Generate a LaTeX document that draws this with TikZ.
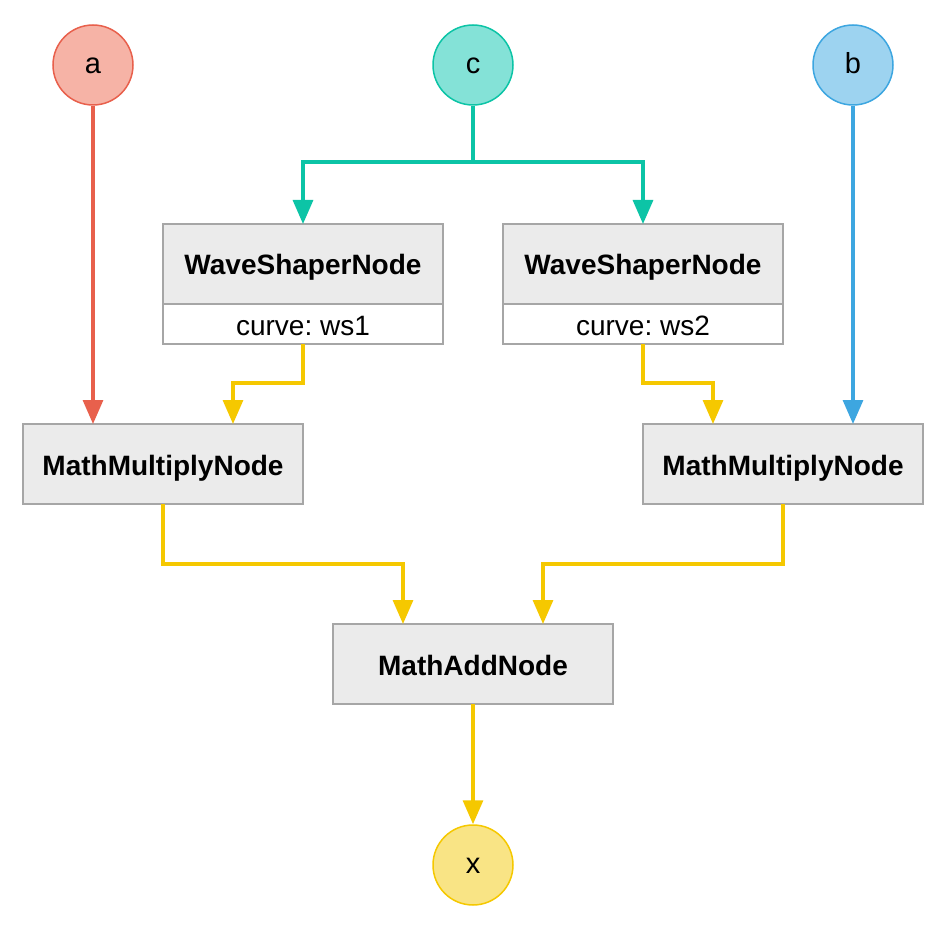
\documentclass[tikz,border=0pt]{standalone}
\usepackage{fontspec}
\setmainfont{Liberation Sans}
\usetikzlibrary{arrows.meta}

\definecolor{boxgray}{HTML}{EBEBEB}
\definecolor{edgegray}{HTML}{A6A6A6}
\definecolor{redfill}{HTML}{F6B3A6}
\definecolor{redline}{HTML}{E8604C}
\definecolor{tealfill}{HTML}{84E2D7}
\definecolor{tealline}{HTML}{0CC4A6}
\definecolor{bluefill}{HTML}{9DD3F0}
\definecolor{blueline}{HTML}{3DA6E0}
\definecolor{yellowfill}{HTML}{F9E485}
\definecolor{yellowline}{HTML}{F5C800}

\frenchspacing
\tikzset{
  port/.style={circle, minimum size=80pt, inner sep=0pt, line width=1.5pt,
    font=\fontsize{29}{32}\selectfont, text height=17pt, text depth=0pt},
  box/.style={rectangle, draw=edgegray, fill=boxgray, line width=1.5pt,
    minimum width=280pt, minimum height=80pt, inner sep=0pt, outer sep=0pt,
    font=\fontsize{28}{32}\selectfont\bfseries,
    text height=22pt, text depth=0pt},
  attr/.style={rectangle, draw=edgegray, fill=white, line width=1.5pt,
    minimum width=280pt, minimum height=40pt, inner sep=0pt, outer sep=0pt,
    font=\fontsize{28}{32}\selectfont, text height=22pt, text depth=0pt},
  wire/.style={line width=3.2pt, -{Triangle[length=24pt,width=20pt]}},
}

\begin{document}
\begin{tikzpicture}[x=1pt,y=-1pt]
\useasboundingbox (0,0) rectangle (948,928);

% inputs and output
\node[port, draw=redline, fill=redfill] (a) at (93,65) {a};
\node[port, draw=tealline, fill=tealfill] (c) at (473,65) {c};
\node[port, draw=blueline, fill=bluefill] (b) at (853,65) {b};
\node[port, draw=yellowline, fill=yellowfill] (x) at (473,865) {x};

% wave shapers
\node[box] (ws1) at (303,264) {WaveShaperNode};
\node[attr, anchor=north] (ws1c) at (ws1.south) {curve: ws1};
\node[box] (ws2) at (643,264) {WaveShaperNode};
\node[attr, anchor=north] (ws2c) at (ws2.south) {curve: ws2};

% multiply and add
\node[box] (mm1) at (163,464) {MathMultiplyNode};
\node[box] (mm2) at (783,464) {MathMultiplyNode};
\node[box] (add) at (473,664) {MathAddNode};

% c splits to both shapers
\coordinate (cj) at (473,162);
\draw[tealline, line width=3.2pt] (c) -- (cj);
\draw[wire, tealline] (cj) -| (ws1);
\draw[wire, tealline] (cj) -| (ws2);

\draw[wire, redline] (a) -- (a |- mm1.north);
\draw[wire, blueline] (b) -- (b |- mm2.north);

\draw[wire, yellowline] (ws1c.south) -- ++(0,39) -| ([xshift=70pt]mm1.north);
\draw[wire, yellowline] (ws2c.south) -- ++(0,39) -| ([xshift=-70pt]mm2.north);
\draw[wire, yellowline] (mm1.south) -- ++(0,60) -| ([xshift=-70pt]add.north);
\draw[wire, yellowline] (mm2.south) -- ++(0,60) -| ([xshift=70pt]add.north);
\draw[wire, yellowline] (add) -- (x);
\end{tikzpicture}
\end{document}
